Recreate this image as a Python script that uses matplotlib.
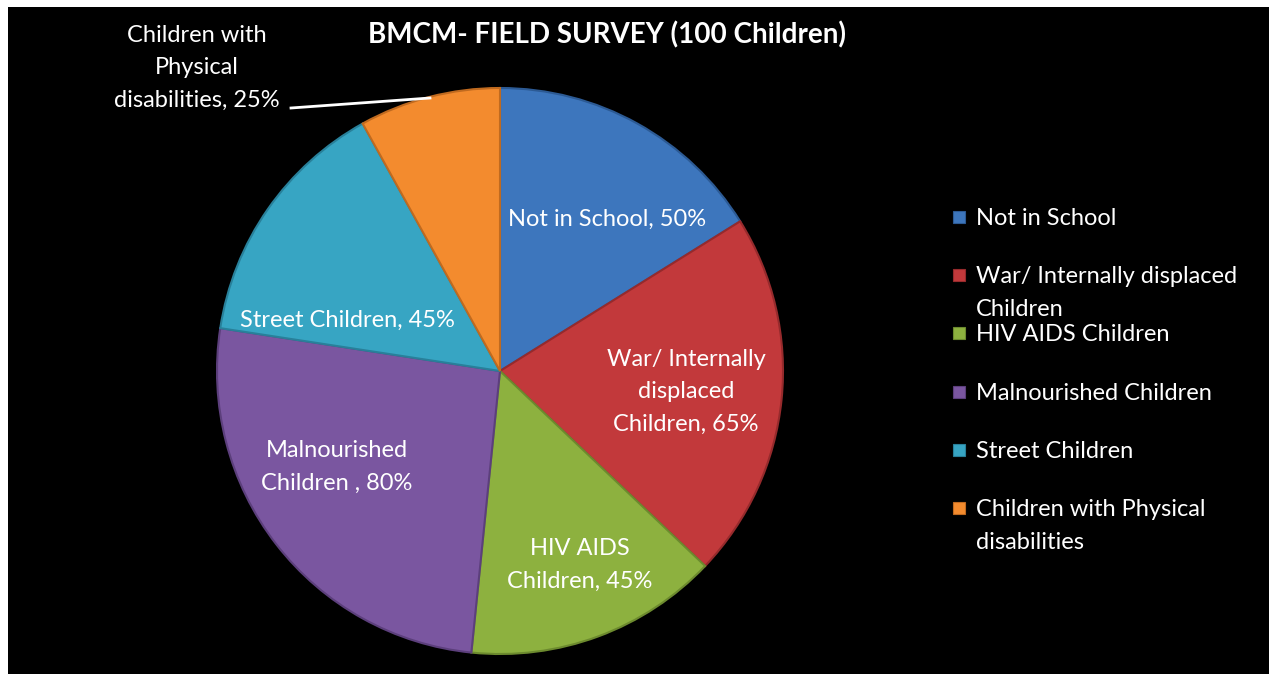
import matplotlib
matplotlib.use("Agg")
import matplotlib.pyplot as plt
from matplotlib.patches import Rectangle
from matplotlib.lines import Line2D

categories = ["Not in School", "War/ Internally displaced Children", "HIV AIDS Children",
              "Malnourished Children", "Street Children", "Children with Physical disabilities"]
values = [50, 65, 45, 80, 45, 25]
slice_labels = ["Not in School, 50%", "War/ Internally\ndisplaced\nChildren, 65%",
                "HIV AIDS\nChildren, 45%", "Malnourished\nChildren , 80%",
                "Street Children, 45%", "Children with\nPhysical\ndisabilities, 25%"]
legend_labels = ["Not in School", "War/ Internally displaced\nChildren", "HIV AIDS Children",
                 "Malnourished Children", "Street Children", "Children with Physical\ndisabilities"]
title = "BMCM- FIELD SURVEY (100 Children)"

colors = ["#3d76bd", "#c2393b", "#8db13f", "#7a56a0", "#37a5c3", "#f38b2e"]
edges = ["#2c5a94", "#962a2c", "#6c8a2e", "#5c3f7c", "#28809a", "#c06a1f"]

W, H = 1269, 674
plt.rcParams['font.family'] = ['Lato', 'DejaVu Sans']
fig = plt.figure(figsize=(W / 100, H / 100), dpi=100, facecolor="white")

def fx(x):
    return x / W

def fy(y):
    return 1 - y / H

# black panel
fig.patches.append(Rectangle((fx(8), 0), 1 - fx(8), fy(7), transform=fig.transFigure,
                             facecolor="black", edgecolor="none", zorder=-10))

cx, cy, r = 500, 371, 283
ax = fig.add_axes([fx(cx - r), fy(cy + r), 2 * r / W, 2 * r / H])
ax.set_zorder(1)
ax.set_facecolor("none")
wedges, _ = ax.pie(values, colors=colors, startangle=90, counterclock=False,
                   radius=1.0, wedgeprops=dict(linewidth=1.5))
for w, e in zip(wedges, edges):
    w.set_edgecolor(e)
ax.set_xlim(-1, 1)
ax.set_ylim(-1, 1)
ax.set_aspect("equal")
ax.axis("off")

label_pos = [(607, 219), (686, 392), (580, 565), (337, 467), (347, 320), (197, 68)]
fs = 17
ls = 1.68
for lab, (x, y) in zip(slice_labels, label_pos):
    fig.text(fx(x), fy(y), lab, color="white", fontsize=fs, ha="center", va="center",
             linespacing=ls, zorder=5)

# leader line for the outside label
fig.add_artist(Line2D([fx(291), fx(430)], [fy(108), fy(98)], color="white", lw=2,
                      transform=fig.transFigure, zorder=5))

fig.text(fx(607), fy(35), title, color="white", fontsize=20, fontweight="bold",
         ha="center", va="center", zorder=5)

# legend
y0, dy = 217, 58.2
for i, (lab, c) in enumerate(zip(legend_labels, colors)):
    y = y0 + dy * i
    fig.patches.append(Rectangle((fx(953), fy(y + 6)), 12 / W, 12 / H, transform=fig.transFigure,
                                 facecolor=c, edgecolor=edges[i], lw=0.8, zorder=5))
    fig.text(fx(976), fy(y - 9), lab, color="white", fontsize=fs, ha="left", va="top",
             linespacing=ls, zorder=5)

fig.savefig("out.png", dpi=100, facecolor="white")
